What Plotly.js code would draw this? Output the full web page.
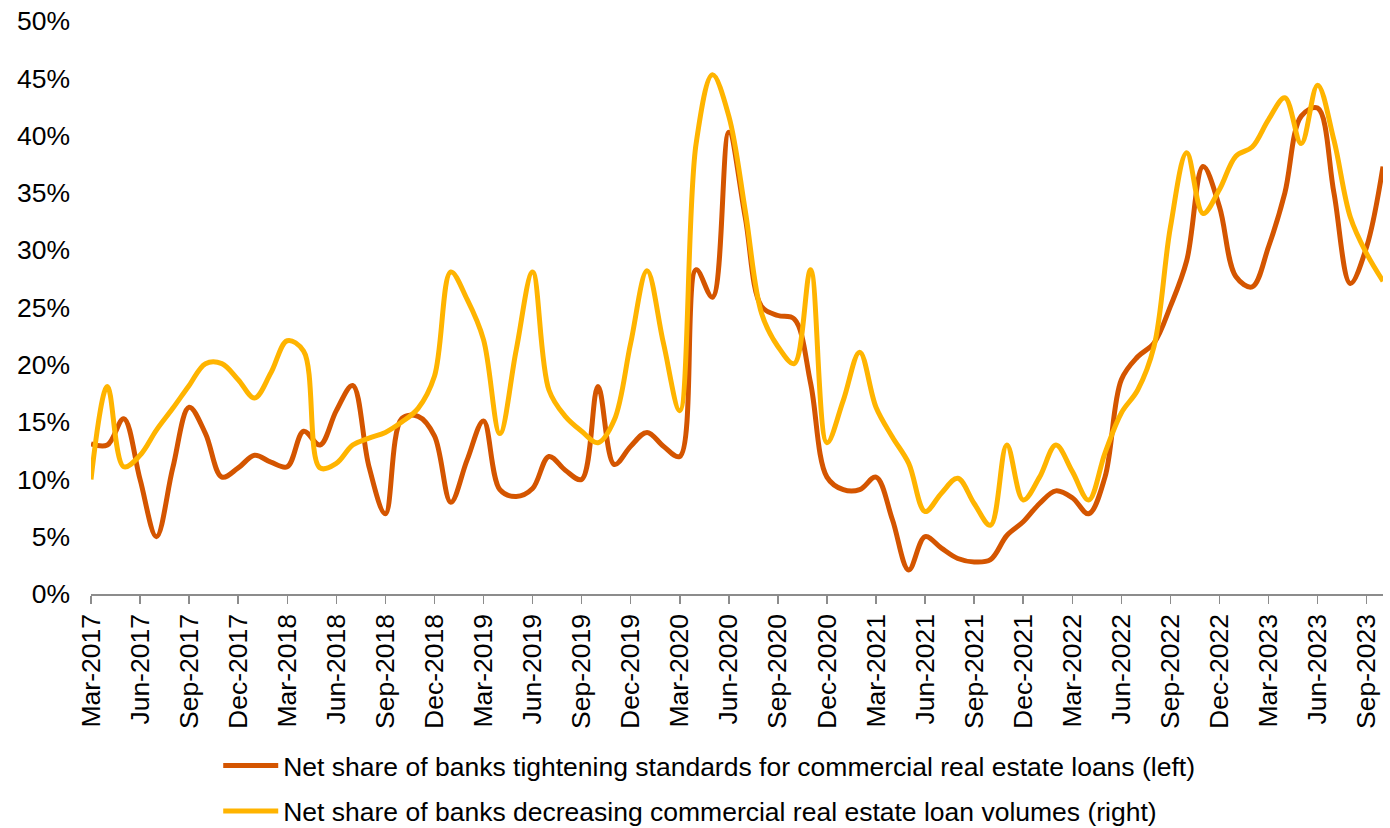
<!DOCTYPE html>
<html>
<head>
<meta charset="utf-8">
<script src="https://cdn.plot.ly/plotly-3.0.1.min.js"></script>
<style>
  html, body { margin: 0; padding: 0; background: #ffffff; }
  #chart { width: 1390px; height: 828px; }
</style>
</head>
<body>
<div id="chart"></div>
<script>
// Monthly observations, Mar-2017 through Oct-2023 (percent)
const monthNames = ['Jan','Feb','Mar','Apr','May','Jun','Jul','Aug','Sep','Oct','Nov','Dec'];
const startYear = 2017;
const startMonth = 2;   // March
const monthCount = 80;

const tickLabels = [
  'Mar-2017','Jun-2017','Sep-2017','Dec-2017',
  'Mar-2018','Jun-2018','Sep-2018','Dec-2018',
  'Mar-2019','Jun-2019','Sep-2019','Dec-2019',
  'Mar-2020','Jun-2020','Sep-2020','Dec-2020',
  'Mar-2021','Jun-2021','Sep-2021','Dec-2021',
  'Mar-2022','Jun-2022','Sep-2022','Dec-2022',
  'Mar-2023','Jun-2023','Sep-2023'
];

const yTickValues = [0, 5, 10, 15, 20, 25, 30, 35, 40, 45, 50];
const yTickLabels = ['0%', '5%', '10%', '15%', '20%', '25%', '30%', '35%', '40%', '45%', '50%'];

const tighteningStandards = [
  13.1, 13.0, 15.3, 10.0,  5.0, 11.0, 16.3, 14.0, 10.2, 11.0,
  12.1, 11.5, 11.1, 14.2, 13.0, 16.0, 18.2, 11.1,  7.0, 15.3,
  15.5, 13.8,  8.0, 11.7, 15.1,  9.1,  8.5,  9.2, 12.0, 10.8,
  10.0, 18.1, 11.3, 12.9, 14.1, 12.9, 12.0, 28.3, 25.9, 40.3,
  32.9, 25.1, 24.3, 24.0, 18.4, 10.2,  9.1,  9.1, 10.2,  6.5,
   2.1,  5.0,  4.0,  3.1,  2.8,  3.0,  5.1,  6.3,  7.9,  9.0,
   8.4,  7.0, 10.2, 18.7, 20.7, 21.9, 25.1, 29.1, 37.3, 33.8,
  27.7, 26.8, 30.3, 35.0, 41.7, 42.4, 35.0, 27.1, 30.3, 37.3
];

const decreasingVolumes = [
  10.0, 18.1, 11.1, 12.1, 14.3, 16.2, 18.2, 20.1, 20.1, 18.7,
  17.1, 19.3, 22.1, 21.2, 11.0, 11.4, 13.0, 13.6, 14.1, 15.0,
  16.2, 19.0, 28.1, 25.7, 22.2, 14.0, 21.3, 28.1, 17.8, 15.5,
  14.2, 13.2, 15.2, 21.9, 28.2, 21.9, 16.0, 39.3, 45.3, 41.7,
  33.5, 24.5, 21.6, 20.1, 28.3, 13.2, 16.9, 21.1, 16.3, 13.7,
  11.4,  7.2,  8.8, 10.1,  7.9,  6.0, 13.0,  8.2, 10.2, 13.0,
  10.7,  8.2, 12.3, 15.8, 17.8, 21.6, 32.0, 38.5, 33.2, 35.3,
  38.2, 39.0, 41.4, 43.3, 39.3, 44.4, 39.6, 32.9, 29.7, 27.3
];

const seriesNames = [
  'Net share of banks tightening standards for commercial real estate loans (left)',
  'Net share of banks decreasing commercial real estate loan volumes (right)'
];

// Month labels used as category positions along the x axis
const months = [];
for (let k = 0; k < monthCount; k++) {
  const m = (startMonth + k) % 12;
  const y = startYear + Math.floor((startMonth + k) / 12);
  months.push(monthNames[m] + '-' + y);
}

const FONT = '"Liberation Sans", Arial, sans-serif';
const FS = 26.5;

const traces = [
  {
    x: months, y: tighteningStandards, name: seriesNames[0],
    type: 'scatter', mode: 'lines', legendgroup: 'a',
    line: { color: '#D45500', width: 5, shape: 'spline', smoothing: 1 },
    hoverinfo: 'skip'
  },
  {
    x: months, y: decreasingVolumes, name: seriesNames[1],
    type: 'scatter', mode: 'lines', legendgroup: 'b',
    line: { color: '#FFB400', width: 5, shape: 'spline', smoothing: 1 },
    hoverinfo: 'skip'
  }
];

const layout = {
  width: 1390, height: 828,
  paper_bgcolor: '#ffffff', plot_bgcolor: '#ffffff',
  margin: { l: 91, r: 7, t: 21, b: 234, autoexpand: false },
  font: { family: FONT, size: FS, color: '#000000' },
  showlegend: true,
  legend: {
    orientation: 'v',
    x: 0.4785, xanchor: 'center',
    y: -0.258, yanchor: 'top',
    font: { family: FONT, size: FS, color: '#000000' },
    itemwidth: 55,
    tracegroupgap: 8,
    bgcolor: 'rgba(0,0,0,0)'
  },
  xaxis: {
    type: 'category',
    automargin: false,
    range: [0, monthCount - 1],
    tickmode: 'array',
    tickvals: tickLabels,
    ticktext: tickLabels,
    tickangle: -90,
    ticks: 'outside', ticklen: 8, tickwidth: 1.5, tickcolor: '#8c8c8c',
    ticklabelstandoff: 0,
    showline: true, linecolor: '#8c8c8c', linewidth: 1.5,
    showgrid: false, zeroline: false,
    tickfont: { family: FONT, size: FS, color: '#000000' }
  },
  yaxis: {
    automargin: false,
    range: [0, 50],
    tickmode: 'array',
    tickvals: yTickValues,
    ticktext: yTickLabels,
    showline: false, showgrid: false, zeroline: false,
    ticks: '',
    ticklabelstandoff: 20,
    tickfont: { family: FONT, size: FS, color: '#000000' }
  }
};

Plotly.newPlot('chart', traces, layout, { staticPlot: true, displayModeBar: false });
</script>
</body>
</html>
